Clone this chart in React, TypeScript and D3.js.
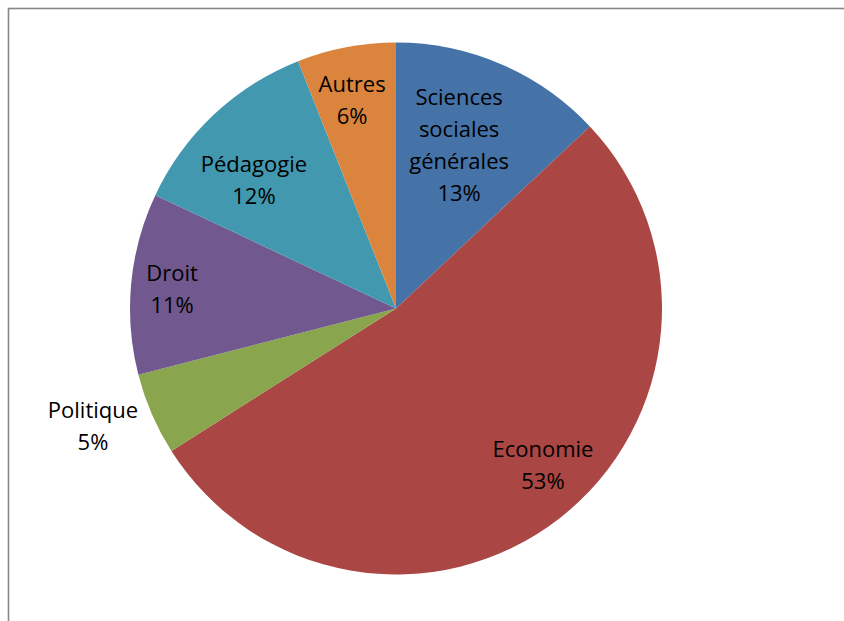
import React from "react";
import * as d3 from "d3";

const categories = ["Sciences sociales générales", "Economie", "Politique", "Droit", "Pédagogie", "Autres"];
const labelLines = [["Sciences", "sociales", "générales"], ["Economie"], ["Politique"], ["Droit"], ["Pédagogie"], ["Autres"]];
const values = [13, 53, 5, 11, 12, 6];
const colors = ["#4572A7", "#AA4643", "#89A54E", "#71588F", "#4198AF", "#DB843D"];
const labelRadiusFactor = [0.659, 0.807, 1.222, 0.845, 0.72, 0.80];
const labelAngleShiftDeg = [-2.3, -5.4, 2.2, -0.4, -4.7, -1.1];

export default function App() {
  const W = 844, H = 621;
  const cx = 396, cy = 308.5, r = 266;
  const pie = d3.pie<number>().sort(null).value((d) => d)(values);
  const arc = d3.arc<d3.PieArcDatum<number>>().innerRadius(0).outerRadius(r);
  const lh = 32;
  return (
    <svg width={W} height={H} style={{ position: "absolute", left: 0, top: 0 }}>
      <rect x={0} y={0} width={W} height={H} fill="#fff" />
      <rect x={8.5} y={8.5} width={W + 20} height={H + 20} fill="none" stroke="#868686" strokeWidth={1.6} />
      <g transform={`translate(${cx},${cy})`}>
        {pie.map((p, i) => (
          <path key={i} d={arc(p) || ""} fill={colors[i]} />
        ))}
        {pie.map((p, i) => {
          const a = (p.startAngle + p.endAngle) / 2 + (labelAngleShiftDeg[i] * Math.PI) / 180;
          const rr = r * labelRadiusFactor[i];
          const x = Math.sin(a) * rr;
          const y = -Math.cos(a) * rr;
          const lines = [...labelLines[i], `${values[i]}%`];
          const y0 = y - ((lines.length - 1) * lh) / 2;
          return (
            <text key={"t" + i} x={x} textAnchor="middle" fontFamily="'Open Sans', sans-serif" fontSize={22} fill="#000">
              {lines.map((l, j) => (
                <tspan key={j} x={x} y={y0 + j * lh} dy="0.35em">{l}</tspan>
              ))}
            </text>
          );
        })}
      </g>
    </svg>
  );
}
